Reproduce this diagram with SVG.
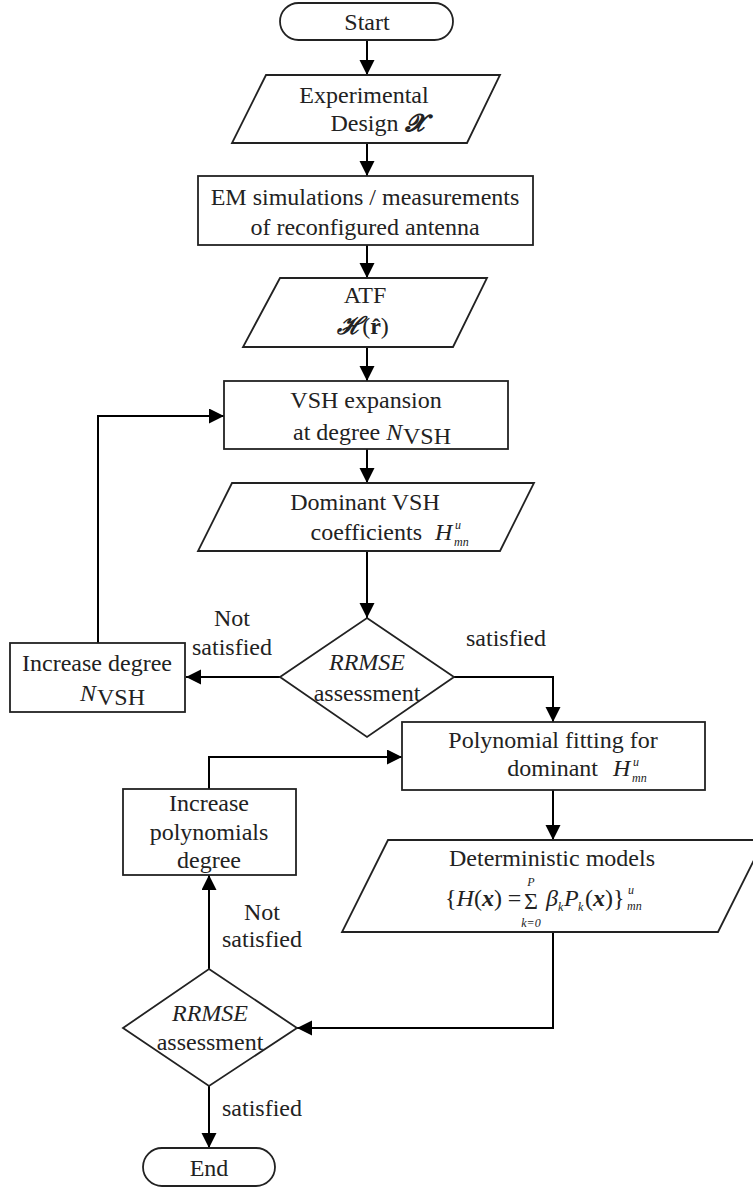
<svg xmlns="http://www.w3.org/2000/svg" width="753" height="1190" viewBox="0 0 753 1190">
<style>
.s{fill:#fff;stroke:#222;stroke-width:1.8}
.c{fill:none;stroke:#000;stroke-width:2}
text{font-size:24px;fill:#222}
.m{text-anchor:middle}
.i{font-style:italic}
.sm{font-size:12px;font-style:italic}
</style>
<defs>
<marker id="a" markerUnits="userSpaceOnUse" markerWidth="16" markerHeight="16" refX="15" refY="7.5" orient="auto">
<path d="M0,0 L15,7.5 L0,15 z" fill="#000"/>
</marker>
</defs>
<rect width="753" height="1190" fill="#fff"/>
<g id="connectors">
<line class="c" x1="367" y1="40" x2="367" y2="75" marker-end="url(#a)"/>
<line class="c" x1="367" y1="143" x2="367" y2="176" marker-end="url(#a)"/>
<line class="c" x1="367" y1="245" x2="367" y2="278" marker-end="url(#a)"/>
<line class="c" x1="367" y1="347" x2="367" y2="381" marker-end="url(#a)"/>
<line class="c" x1="367" y1="449" x2="367" y2="483" marker-end="url(#a)"/>
<line class="c" x1="367" y1="551" x2="367" y2="618" marker-end="url(#a)"/>
<line class="c" x1="280" y1="677" x2="186" y2="677" marker-end="url(#a)"/>
<polyline class="c" points="98,643 98,416 224,416" marker-end="url(#a)"/>
<polyline class="c" points="454,677 553,677 553,722" marker-end="url(#a)"/>
<line class="c" x1="553" y1="790" x2="553" y2="840" marker-end="url(#a)"/>
<polyline class="c" points="553,932 553,1028 297,1028" marker-end="url(#a)"/>
<line class="c" x1="209" y1="969" x2="209" y2="875" marker-end="url(#a)"/>
<polyline class="c" points="209,789 209,757 402,757" marker-end="url(#a)"/>
<line class="c" x1="209" y1="1086" x2="209" y2="1148" marker-end="url(#a)"/>
</g>
<g style="font-family:'Liberation Serif',serif">
<g id="start">
<rect class="s" x="280" y="3" width="173" height="37" rx="18.5"/>
<text class="m" x="367" y="30">Start</text>
</g>
<g id="design">
<polygon class="s" points="266,75 500,75 467,143 232,143"/>
<text class="m" x="364" y="103">Experimental</text>
<text class="m" x="377" y="131">Design <tspan font-weight="bold" font-style="italic">𝓧</tspan></text>
</g>
<g id="em">
<rect class="s" x="198" y="176" width="335" height="69"/>
<text class="m" x="365" y="205">EM simulations / measurements</text>
<text class="m" x="365" y="235">of reconfigured antenna</text>
</g>
<g id="atf">
<polygon class="s" points="280,278 487,278 453,347 243,347"/>
<text class="m" x="365" y="303">ATF</text>
<text class="m" x="363" y="334" font-size="20"><tspan font-weight="bold" font-style="italic">ℋ</tspan>(<tspan font-weight="bold">r̂</tspan>)</text>
</g>
<g id="vsh">
<rect class="s" x="224" y="381" width="284" height="68"/>
<text class="m" x="366" y="408">VSH expansion</text>
<text x="293" y="440">at degree <tspan class="i">N</tspan></text>
<text x="403" y="444" font-size="17">VSH</text>
</g>
<g id="dominant">
<polygon class="s" points="232,483 534,483 500,551 198,551"/>
<text class="m" x="365" y="510">Dominant VSH</text>
<text x="422" y="540" text-anchor="end">coefficients</text>
<text class="i" x="435" y="540">H</text>
<text class="sm" x="455" y="529">u</text>
<text class="sm" x="454" y="546" font-size="11">mn</text>
</g>
<g id="rrmse1">
<polygon class="s" points="367,618 454,677 367,737 280,677"/>
<text class="m i" x="367" y="670">RRMSE</text>
<text class="m" x="367" y="701">assessment</text>
</g>
<g id="incdeg">
<rect class="s" x="10" y="643" width="175" height="69"/>
<text class="m" x="97" y="671">Increase degree</text>
<text class="i" x="80" y="701">N</text>
<text x="97" y="705" font-size="17">VSH</text>
</g>
<g id="labels">
<text class="m" x="232" y="626">Not</text>
<text class="m" x="232" y="655">satisfied</text>
<text class="m" x="506" y="646">satisfied</text>
<text class="m" x="262" y="920">Not</text>
<text class="m" x="262" y="947">satisfied</text>
<text class="m" x="262" y="1116">satisfied</text>
</g>
<g id="polyfit">
<rect class="s" x="402" y="722" width="303" height="68"/>
<text class="m" x="553" y="748">Polynomial fitting for</text>
<text x="598" y="776" text-anchor="end">dominant</text>
<text class="i" x="613" y="776">H</text>
<text class="sm" x="633" y="766">u</text>
<text class="sm" x="632" y="782" font-size="11">mn</text>
</g>
<g id="models">
<polygon class="s" points="388,840 764,840 718,932 342,932"/>
<text class="m" x="552" y="866">Deterministic models</text>
<text x="445" y="906">{<tspan class="i">H</tspan>(<tspan font-weight="bold" font-style="italic">x</tspan>) =</text>
<text class="m" x="531" y="909" font-size="26">Σ</text>
<text class="sm m" x="531" y="886" font-size="11">P</text>
<text class="sm m" x="531" y="927" font-size="10">k=0</text>
<text class="i" x="546" y="906">β</text>
<text class="sm" x="558" y="911">k</text>
<text class="i" x="564" y="906">P</text>
<text class="sm" x="578" y="911">k</text>
<text x="585" y="906">(<tspan font-weight="bold" font-style="italic">x</tspan>)}</text>
<text class="sm" x="628" y="894">u</text>
<text class="sm" x="627" y="910" font-size="11">mn</text>
</g>
<g id="rrmse2">
<polygon class="s" points="209,969 297,1028 209,1086 123,1028"/>
<text class="m i" x="210" y="1021">RRMSE</text>
<text class="m" x="210" y="1050">assessment</text>
</g>
<g id="incpoly">
<rect class="s" x="123" y="789" width="173" height="86"/>
<text class="m" x="209" y="811">Increase</text>
<text class="m" x="209" y="840">polynomials</text>
<text class="m" x="209" y="868">degree</text>
</g>
<g id="end">
<rect class="s" x="143" y="1148" width="132" height="38" rx="19"/>
<text class="m" x="209" y="1176">End</text>
</g>
</g>
</svg>
